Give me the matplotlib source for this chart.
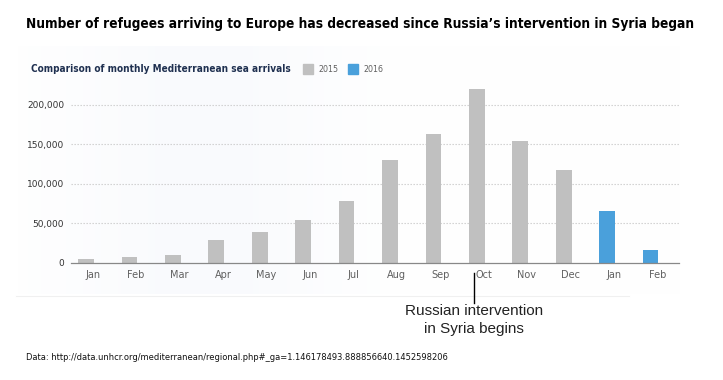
import matplotlib
matplotlib.use("Agg")
import matplotlib.pyplot as plt
from matplotlib.ticker import FuncFormatter
import numpy as np

months = ["Jan", "Feb", "Mar", "Apr", "May", "Jun", "Jul", "Aug", "Sep", "Oct",
          "Nov", "Dec", "Jan", "Feb"]
arrivals_2015 = [5500, 7200, 10400, 29500, 39300, 54500, 78000, 130500, 163000,
                 220500, 154500, 118000]
arrivals_2016 = [65500, 16500]
yticks = [0, 50000, 100000, 150000, 200000]

c2015 = "#c0c0c0"
c2016 = "#4aa0db"

fig = plt.figure(figsize=(7.23, 3.80), dpi=100)
fig.patch.set_facecolor("white")
renderer = fig.canvas.get_renderer()


def fit_text(t, width_px):
    bb = t.get_window_extent(renderer=renderer)
    t.set_fontsize(t.get_fontsize() * width_px / bb.width)


# faint background panel of embedded screenshot
bg = fig.add_axes([0.025, 0.225, 0.915, 0.655], zorder=0)
grad = np.linspace(0, 1, 256)
img = np.ones((50, 256, 3))
tint = np.exp(-((grad - 0.28) / 0.2) ** 2) * 0.018
for k in range(3):
    img[:, :, k] = 1 - tint * [1.3, 1.0, 0.4][k]
bg.imshow(img, aspect="auto", extent=[0, 1, 0, 1])
bg.set_axis_off()
fig.add_artist(plt.Line2D([0.022, 0.87], [1 - 296 / 380] * 2, color="#f0f0f0", lw=0.8))

ax = fig.add_axes([71 / 723, 1 - 263 / 380, (679 - 71) / 723, 0.7757 - (1 - 263 / 380)], zorder=1)
ax.patch.set_alpha(0)

x15 = np.arange(len(arrivals_2015))
x16 = np.arange(len(arrivals_2015), len(arrivals_2015) + len(arrivals_2016))
w = 0.36
off = -0.155
ax.bar(x15 + off, arrivals_2015, width=w, color=c2015, zorder=2)
ax.bar(x16 + off, arrivals_2016, width=w, color=c2016, zorder=2)

ax.set_xlim(-0.5, len(months) - 0.5)
ax.set_ylim(0, 225000)
ax.set_yticks(yticks)
ax.yaxis.set_major_formatter(FuncFormatter(lambda v, p: f"{int(v):,}"))
ax.set_xticks(np.arange(len(months)))
ax.set_xticklabels(months)
ax.tick_params(axis="y", length=0, labelsize=6.5, labelcolor="#333333", pad=5)
ax.tick_params(axis="x", length=0, labelsize=7, labelcolor="#606060", pad=5)
for s in ["top", "right", "left"]:
    ax.spines[s].set_visible(False)
ax.spines["bottom"].set_color("#888888")
ax.spines["bottom"].set_linewidth(0.9)
ax.spines["bottom"].set_zorder(3)
for t in yticks[1:]:
    ax.axhline(t, color="#cccccc", lw=0.8, ls=(0, (1.2, 1.5)), zorder=1)

# annotation line + text
xl = ax.transData.transform((8.78, 0))[0] / fig.bbox.width
fig.add_artist(plt.Line2D([xl, xl], [1 - 273 / 380, 1 - 303 / 380], color="black", lw=1))
fig.text(xl, 1 - 320 / 380, "Russian intervention\nin Syria begins", ha="center",
         va="center", fontsize=11, color="#222222", linespacing=1.4,
         family=["Liberation Sans", "DejaVu Sans"])

COND = dict(family=["DejaVu Sans"], fontstretch="condensed")

# titles
title = fig.text(26 / 723, 1 - 24 / 380,
                 "Number of refugees arriving to Europe has decreased since Russia\u2019s intervention in Syria began",
                 ha="left", va="center", fontsize=13.5, fontweight="bold", color="black", **COND)
fit_text(title, 671)
sub = fig.text(31 / 723, 1 - 69 / 380, "Comparison of monthly Mediterranean sea arrivals",
               ha="left", va="center", fontsize=10.5, fontweight="bold", color="#1f3050", **COND)
fit_text(sub, 259)

# legend
for xs, col, lab in [(303, c2015, "2015"), (348, c2016, "2016")]:
    fig.patches.append(plt.Rectangle((xs / 723, 1 - 74 / 380), 10 / 723, 10 / 380,
                                     transform=fig.transFigure, color=col, figure=fig))
    lt = fig.text((xs + 15) / 723, 1 - 69 / 380, lab, ha="left", va="center", fontsize=8,
                  color="#606060", **COND)
    fit_text(lt, 20)

src = fig.text(26 / 723, 1 - 358 / 380,
               "Data: http://data.unhcr.org/mediterranean/regional.php#_ga=1.146178493.888856640.1452598206",
               ha="left", va="center", fontsize=9.5, color="#111111", **COND)
fit_text(src, 427)

fig.savefig("out.png", dpi=100, facecolor="white")
